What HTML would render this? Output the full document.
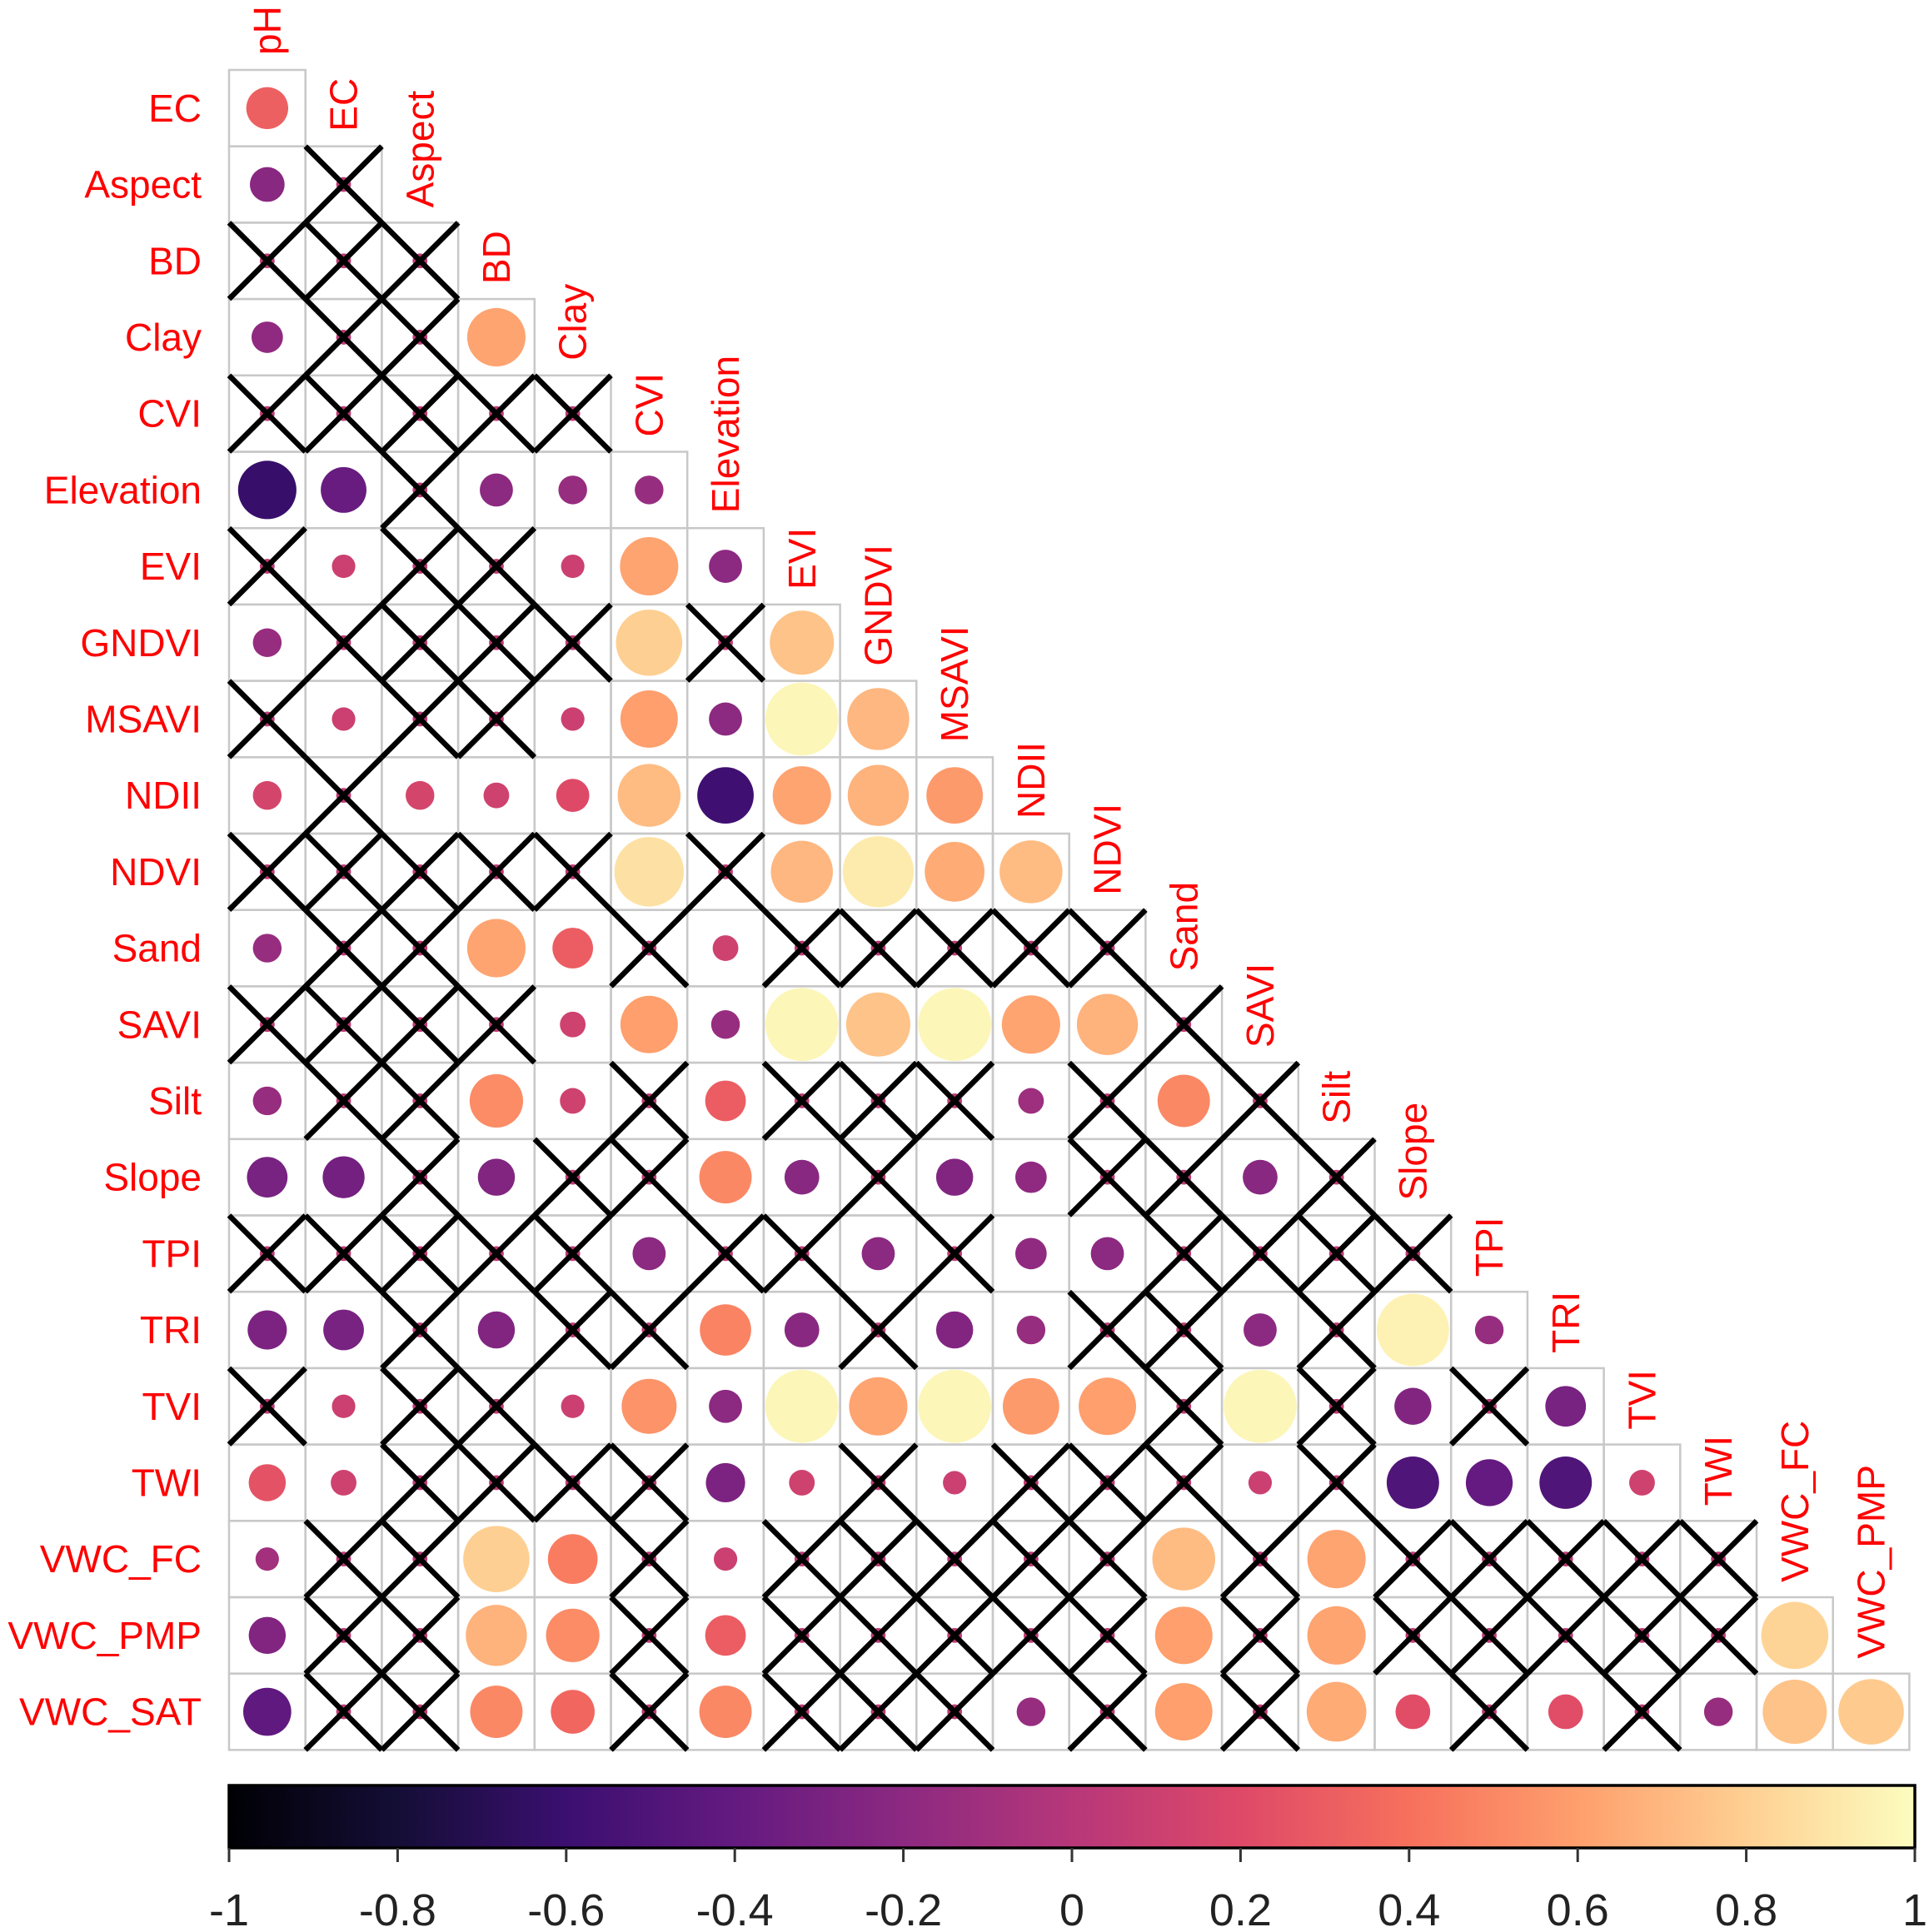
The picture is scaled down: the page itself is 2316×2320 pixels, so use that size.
<!DOCTYPE html>
<html><head><meta charset="utf-8"><style>
html,body{margin:0;padding:0;background:#fff;}
svg{display:block;}
text{font-family:"Liberation Sans",Arial,sans-serif;}
</style></head><body>
<svg id="chart" width="2316" height="2320" viewBox="0 0 2316 2320" xmlns="http://www.w3.org/2000/svg">
<defs>
<linearGradient id="magma" x1="0" x2="1" y1="0" y2="0">
<stop offset="0" stop-color="#000004"/><stop offset="0.1" stop-color="#140e36"/><stop offset="0.2" stop-color="#3b0f70"/><stop offset="0.3" stop-color="#641a80"/><stop offset="0.4" stop-color="#8c2981"/><stop offset="0.5" stop-color="#b73779"/><stop offset="0.6" stop-color="#de4968"/><stop offset="0.7" stop-color="#f7705c"/><stop offset="0.8" stop-color="#fe9f6d"/><stop offset="0.9" stop-color="#fecf92"/><stop offset="1" stop-color="#fcfdbf"/>
</linearGradient>
</defs>
<g id="cells"></g><g id="marks"></g><g id="crosses"></g><g id="labels"></g><g id="legend"></g>
</svg>
<script>
const vars = ["pH","EC","Aspect","BD","Clay","CVI","Elevation","EVI","GNDVI","MSAVI","NDII","NDVI","Sand","SAVI","Silt","Slope","TPI","TRI","TVI","TWI","VWC_FC","VWC_PMP","VWC_SAT"];
const X = 0.04;
const corrRows = [
[0.32],
[-0.22,X],
[X,X,X],
[-0.18,X,X,0.62],
[X,X,X,X,X],
[-0.62,-0.38,X,-0.2,-0.15,-0.15],
[X,0.1,X,X,0.1,0.62,-0.2],
[-0.15,X,X,X,X,0.8,X,0.75],
[X,0.1,X,X,0.1,0.6,-0.2,0.97,0.7],
[0.15,X,0.15,0.12,0.2,0.72,-0.58,0.62,0.68,0.58],
[X,X,X,X,X,0.88,X,0.7,0.92,0.65,0.72],
[-0.15,X,X,0.62,0.3,X,0.12,X,X,X,X,X],
[X,X,X,X,0.12,0.6,-0.15,0.97,0.75,0.97,0.62,0.68,X],
[-0.15,X,X,0.52,0.12,X,0.3,X,X,X,-0.12,X,0.5,X],
[-0.3,-0.32,X,-0.25,X,X,0.5,-0.22,X,-0.25,-0.18,X,X,-0.22,X],
[X,X,X,X,X,-0.2,X,X,-0.2,X,-0.18,-0.2,X,X,X,X],
[-0.28,-0.3,X,-0.25,X,X,0.48,-0.22,X,-0.25,-0.15,X,X,-0.2,X,0.95,-0.15],
[X,0.1,X,X,0.1,0.55,-0.2,0.97,0.62,0.97,0.58,0.6,X,0.97,X,-0.25,X,-0.3],
[0.25,0.12,X,X,X,X,-0.28,0.12,X,0.1,X,X,X,0.1,X,-0.5,-0.4,-0.5,0.12],
[-0.1,X,X,0.8,0.45,X,0.1,X,X,X,X,X,0.72,X,0.62,X,X,X,X,X],
[-0.25,X,X,0.68,0.52,X,0.3,X,X,X,X,X,0.6,X,0.62,X,X,X,X,X,0.82],
[-0.42,X,X,0.5,0.35,X,0.5,X,X,X,-0.15,X,0.6,X,0.65,0.22,X,0.22,X,-0.15,0.75,0.78]
];
const sigRows = ["1","10","000","1001","00000","110111","0100111","10000101","010011111","1011111111","00000101111","100110100000","0000111111110","10011010001010","110100110110010","0000010010110000","11010011011001011","010011111111010101","1100001101000101111","10011010000010100000","100110100000101000001","1001101000101011010111"];
const tickVals = [-1,-0.8,-0.6,-0.4,-0.2,0,0.2,0.4,0.6,0.8,1];
const tickLabels = ["-1","-0.8","-0.6","-0.4","-0.2","0","0.2","0.4","0.6","0.8","1"];

const NS="http://www.w3.org/2000/svg";
const L=275, T=84, C=91.7;
const CB0=275, CB1=2299;
const magma=["#000004","#140e36","#3b0f70","#641a80","#8c2981","#b73779","#de4968","#f7705c","#fe9f6d","#fecf92","#fcfdbf"];
function hex(h){return [1,3,5].map(i=>parseInt(h.substr(i,2),16));}
function color(v){let t=(v+1)/2*10; let i=Math.min(9,Math.floor(t)); let f=t-i; let a=hex(magma[i]),b=hex(magma[i+1]);
 return "rgb("+a.map((x,k)=>Math.round(x+(b[k]-x)*f)).join(",")+")";}
const xCol=j=>L+C*j, yRow=i=>T+C*i;
const cbX=v=>CB0+(v+1)/2*(CB1-CB0);
function mk(tag,attrs,parent){const e=document.createElementNS(NS,tag);for(const k in attrs)e.setAttribute(k,attrs[k]);document.getElementById(parent).appendChild(e);return e;}

corrRows.forEach((row,i)=>{
  row.forEach((v,j)=>{
    const x=xCol(j), y=yRow(i);
    const r=mk("rect",{x:x,y:y,width:C,height:C,fill:"none",stroke:"#c8c8c8","stroke-width":2.5},"cells");
    
    
    const c=mk("circle",{cx:x+C/2,cy:y+C/2,r:44.5*Math.sqrt(Math.abs(v)),fill:color(v)},"marks");
    
    
    if(sigRows[i][j]==="0"){
      const p=mk("path",{d:`M${x} ${y}L${x+C} ${y+C}M${x+C} ${y}L${x} ${y+C}`,stroke:"#000","stroke-width":6.5,fill:"none"},"crosses");
      
      
    }
  });
  const t=mk("text",{x:242,y:yRow(i)+C/2+16,"text-anchor":"end","font-size":46,fill:"#ff0000"},"labels");
  t.textContent=vars[i+1];
  
  
});
for(let j=0;j<22;j++){
  const cx=xCol(j)+C/2+16, by=yRow(j)-18;
  const t=mk("text",{x:0,y:0,transform:`translate(${cx},${by}) rotate(-90)`,"text-anchor":"start","font-size":46,fill:"#ff0000"},"labels");
  t.textContent=vars[j];
  
  
}
const bar=mk("rect",{x:CB0,y:2144,width:CB1-CB0,height:75,fill:"url(#magma)",stroke:"#000","stroke-width":3.5},"legend");


tickVals.forEach((v,k)=>{
  const x=cbX(v);
  const l=mk("line",{x1:x,x2:x,y1:2219,y2:2236,stroke:"#333","stroke-width":3},"legend");
  
  
  const t=mk("text",{x:x,y:2312,"text-anchor":"middle","font-size":54,fill:"#222"},"legend");
  t.textContent=tickLabels[k];
  
  
});
</script>
</body></html>
